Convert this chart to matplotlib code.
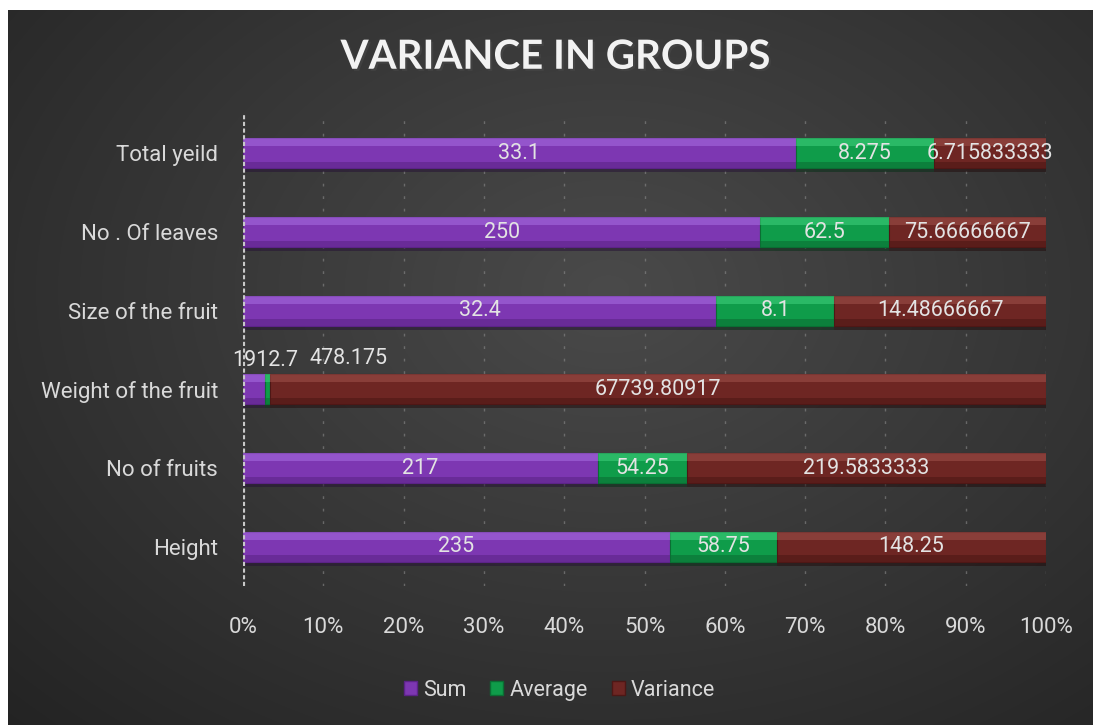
import matplotlib
matplotlib.use("Agg")
import matplotlib.pyplot as plt
import matplotlib.patheffects as pe
import numpy as np

# chart data
categories = ["Height", "No of fruits", "Weight of the fruit",
              "Size of the fruit", "No . Of leaves", "Total yeild"]
sum_vals = [235, 217, 1912.7, 32.4, 250, 33.1]
avg_vals = [58.75, 54.25, 478.175, 8.1, 62.5, 8.275]
var_vals = [148.25, 219.5833333, 67739.80917, 14.48666667, 75.66666667, 6.715833333]
sum_lbl = ["235", "217", "1912.7", "32.4", "250", "33.1"]
avg_lbl = ["58.75", "54.25", "478.175", "8.1", "62.5", "8.275"]
var_lbl = ["148.25", "219.5833333", "67739.80917", "14.48666667", "75.66666667", "6.715833333"]
series_names = ["Sum", "Average", "Variance"]
xticks = [0, 10, 20, 30, 40, 50, 60, 70, 80, 90, 100]

plt.rcParams['font.family'] = ['Roboto', 'DejaVu Sans']

fig = plt.figure(figsize=(10.93, 7.25), dpi=100)
fig.patch.set_facecolor("white")

# dark radial background panel
bg = fig.add_axes([8/1093, 0, 1 - 8/1093, 715/725])
bg.set_axis_off()
yy, xx = np.mgrid[0:715, 0:1085]
d = np.sqrt(((xx - 600) / 900.0) ** 2 + ((yy - 280) / 650.0) ** 2)
lev = np.clip(0.29 - 0.16 * d, 0.13, 0.29)
bg.imshow(np.dstack([lev, lev, lev]), aspect="auto", interpolation="bilinear")

ax = fig.add_axes([243/1093, 139/725, 803/1093, 472/725])
ax.set_facecolor("none")

tot = np.array(sum_vals) + np.array(avg_vals) + np.array(var_vals)
s_pct = np.array(sum_vals) / tot * 100
a_pct = np.array(avg_vals) / tot * 100
v_pct = np.array(var_vals) / tot * 100
y = np.arange(len(categories))
h = 0.38

cols = [("#7d37b2", "#a86ee2", "#5c2388"),
        ("#0f9c4a", "#42d27e", "#0a6e33"),
        ("#6e2623", "#a0524c", "#4e1715")]
lefts = [np.zeros(len(y)), s_pct, s_pct + a_pct]
widths = [s_pct, a_pct, v_pct]

for (c, hi, dk), left, w in zip(cols, lefts, widths):
    ax.barh(y, w, left=left, height=h, color=c, edgecolor=dk, linewidth=0.8,
            zorder=3,
            path_effects=[pe.SimplePatchShadow(offset=(0, -3), alpha=0.5), pe.Normal()])
    ax.barh(y + h/2 - 0.05, w, left=left, height=0.1, color=hi, linewidth=0,
            alpha=0.55, zorder=4)
    ax.barh(y - h/2 + 0.04, w, left=left, height=0.08, color=dk, linewidth=0,
            alpha=0.6, zorder=4)

lbl_kw = dict(color="#e3e3e3", fontsize=15.5, ha="center", va="center", zorder=6)
for i in range(len(y)):
    if categories[i] == "Weight of the fruit":
        ax.annotate(sum_lbl[i], (s_pct[i] / 2, y[i]), xytext=(8, 21),
                    textcoords="offset points", **lbl_kw)
        ax.annotate(avg_lbl[i], (s_pct[i] + a_pct[i] / 2, y[i]), xytext=(58, 22),
                    textcoords="offset points", **lbl_kw)
    else:
        ax.text(s_pct[i] / 2, y[i], sum_lbl[i], **lbl_kw)
        ax.text(s_pct[i] + a_pct[i] / 2, y[i], avg_lbl[i], **lbl_kw)
    ax.text(s_pct[i] + a_pct[i] + v_pct[i] / 2, y[i], var_lbl[i], **lbl_kw)

ax.set_xlim(0, 100)
ax.set_ylim(-0.5, len(y) - 0.5)
ax.set_xticks(xticks)
ax.set_xticklabels([f"{t}%" for t in xticks], color="#d9d9d9", fontsize=16)
ax.set_yticks(y)
ax.set_yticklabels(categories, color="#d9d9d9", fontsize=16)
ax.tick_params(length=0)
ax.tick_params(axis="x", pad=22)
ax.tick_params(axis="y", pad=18)
for t in xticks[1:]:
    ax.axvline(t, color="#8a8a8a", lw=1, ls=(0, (2, 7)), alpha=0.6, zorder=1)
ax.axvline(0, color="#c8c8c8", lw=3, ls=(0, (1, 0.6)), zorder=5)
for s in ax.spines.values():
    s.set_visible(False)

fig.text(0.508, 0.921, "VARIANCE IN GROUPS", ha="center", va="center",
         fontsize=29, fontweight="bold", color="#f2f2f2", family=["Lato", "DejaVu Sans"],
         path_effects=[pe.withSimplePatchShadow(offset=(1.5, -1.5), alpha=0.6)])

handles = [plt.Rectangle((0, 0), 1, 1, facecolor=c, edgecolor=dk) for c, hi, dk in cols]
leg = fig.legend(handles, series_names, loc="center", bbox_to_anchor=(0.512, 0.048),
                 ncol=3, frameon=False, fontsize=15.5, handlelength=0.6,
                 handleheight=0.6, handletextpad=0.3, columnspacing=1.1)
for t in leg.get_texts():
    t.set_color("#d9d9d9")

fig.savefig("out.png", dpi=100, facecolor=fig.get_facecolor())
